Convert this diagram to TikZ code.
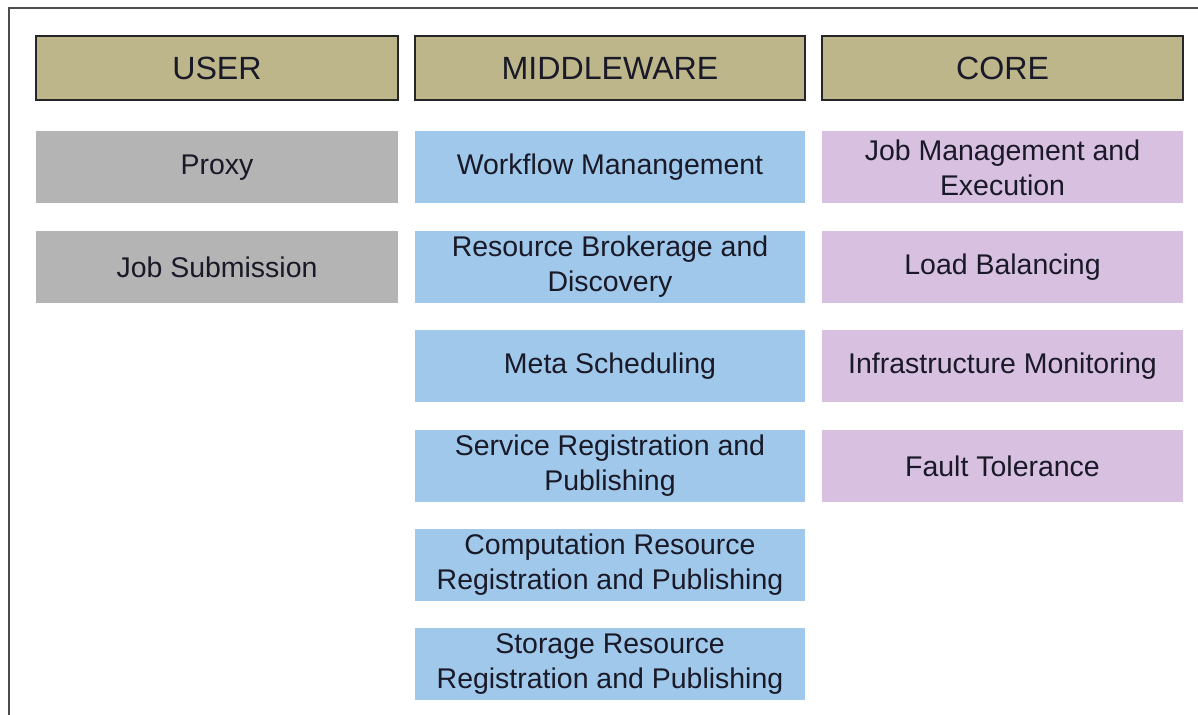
\documentclass[tikz,border=0pt]{standalone}
\usepackage{fontspec}
\setmainfont{Liberation Sans}
\usepackage{tikz}
\usetikzlibrary{positioning}

\definecolor{headolive}{RGB}{189,182,138}
\definecolor{usergray}{RGB}{180,180,180}
\definecolor{midblue}{RGB}{160,200,234}
\definecolor{corepink}{RGB}{216,192,224}
\definecolor{inktext}{RGB}{25,25,40}

\tikzset{
    layer/.style={draw=black!85, line width=1.2pt, fill=headolive, minimum height=1.28cm,
        text=inktext, font=\fontsize{18.3}{21}\selectfont},
    item/.style={minimum height=1.44cm, align=center, inner sep=0pt, text=inktext,
        font=\fontsize{16.2}{19.9}\selectfont}
}

\begin{document}
\begin{tikzpicture}
        \useasboundingbox (0,0) rectangle (23.96,-14.3);

        % open frame round the whole chart
        \draw[black!70, line width=0.8pt] (23.96,-0.16) -- (0.18,-0.16) -- (0.18,-14.3);

        % the three layers
        \node[layer, minimum width=7.24cm] (user) at (4.34,-1.36) {USER};
        \node[layer, minimum width=7.8cm] (middle) at (12.2,-1.36) {MIDDLEWARE};
        \node[layer, minimum width=7.22cm] (core) at (20.05,-1.36) {CORE};

        % user side
        \node[item, fill=usergray, minimum width=7.24cm] (proxy) at (4.34,-3.35) {Proxy};
        \node[item, fill=usergray, minimum width=7.24cm] (jobsub) at (4.34,-5.34) {Job Submission};

        % middleware services
        \node[item, fill=midblue, minimum width=7.8cm] (workflow) at (12.2,-3.35) {Workflow Manangement};
        \node[item, fill=midblue, minimum width=7.8cm] (broker) at (12.2,-5.34) {Resource Brokerage and\\Discovery};
        \node[item, fill=midblue, minimum width=7.8cm] (metasched) at (12.2,-7.32) {Meta Scheduling};
        \node[item, fill=midblue, minimum width=7.8cm] (servreg) at (12.2,-9.32) {Service Registration and\\Publishing};
        \node[item, fill=midblue, minimum width=7.8cm] (compreg) at (12.2,-11.3) {Computation Resource\\Registration and Publishing};
        \node[item, fill=midblue, minimum width=7.8cm] (storreg) at (12.2,-13.28) {Storage Resource\\Registration and Publishing};

        % core functions
        \node[item, fill=corepink, minimum width=7.22cm] (jobmgmt) at (20.05,-3.35) {Job Management and\\Execution};
        \node[item, fill=corepink, minimum width=7.22cm] (loadbal) at (20.05,-5.34) {Load Balancing};
        \node[item, fill=corepink, minimum width=7.22cm] (monitor) at (20.05,-7.32) {Infrastructure Monitoring};
        \node[item, fill=corepink, minimum width=7.22cm] (fault) at (20.05,-9.32) {Fault Tolerance};
\end{tikzpicture}
\end{document}
